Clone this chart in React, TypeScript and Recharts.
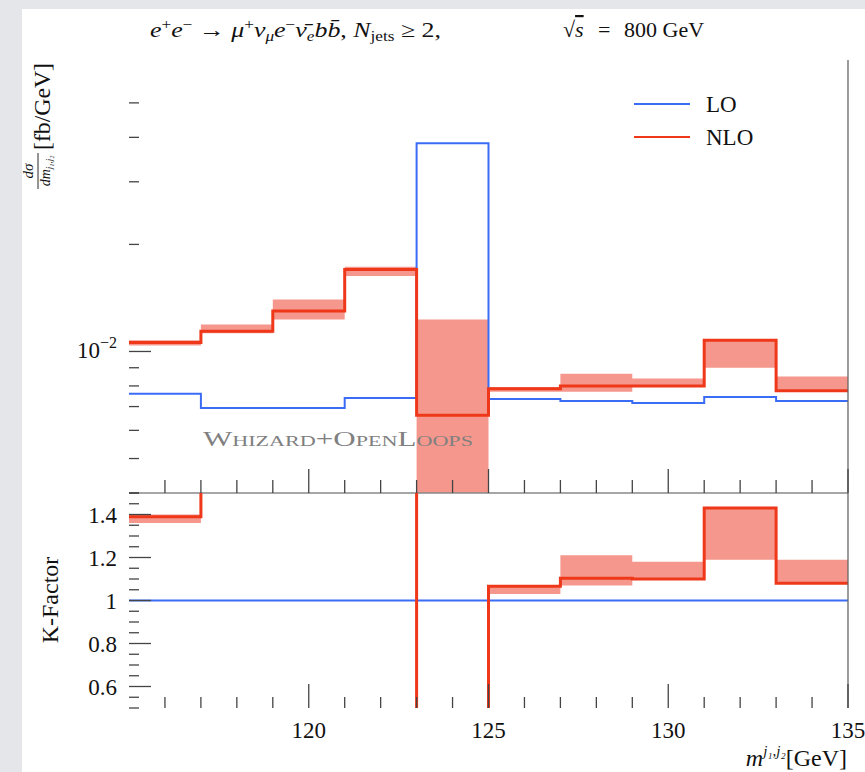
import { ComposedChart, Line, Area, XAxis, YAxis, ReferenceLine } from 'recharts'

const SERIF = '"Liberation Serif", "DejaVu Serif", serif'
const BLUE = '#3b6cf6'
const RED = '#ee3819'
const BAND = '#f5978c'
const TICK = '#444'

// m(j1,j2) histogram bins [GeV]
const binEdges = [115, 117, 119, 121, 123, 125, 127, 129, 131, 133, 135]

// dsigma/dm [fb/GeV], one value per bin
const loXsec = [7.6e-3, 6.93e-3, 6.93e-3, 7.4e-3, 3.85e-2, 7.35e-3, 7.26e-3, 7.16e-3, 7.45e-3, 7.26e-3]
const nloXsec = [1.06e-2, 1.14e-2, 1.3e-2, 1.7e-2, 6.62e-3, 7.85e-3, 8.0e-3, 8.0e-3, 1.075e-2, 7.75e-3]
const nloXsecLow = [1.04e-2, 1.125e-2, 1.23e-2, 1.63e-2, 3.0e-3, 7.7e-3, 7.7e-3, 7.95e-3, 9.0e-3, 7.75e-3]
const nloXsecHigh = [1.075e-2, 1.19e-2, 1.4e-2, 1.73e-2, 1.23e-2, 7.95e-3, 8.66e-3, 8.4e-3, 1.075e-2, 8.5e-3]

// K-factor NLO/LO
const loK = [1, 1, 1, 1, 1, 1, 1, 1, 1, 1]
const nloK = [1.39, 1.64, 1.88, 2.3, 0.17, 1.066, 1.104, 1.1, 1.43, 1.08]
const nloKLow = [1.36, 1.6, 1.8, 2.2, 0.08, 1.03, 1.07, 1.1, 1.19, 1.08]
const nloKHigh = [1.4, 1.7, 2.0, 2.4, 0.32, 1.066, 1.21, 1.18, 1.43, 1.19]

const massTicks = [116, 117, 118, 119, 120, 121, 122, 123, 124, 125, 126, 127, 128, 129, 130, 131, 132, 133, 134, 135]
const xsecTicks = [0.004, 0.005, 0.006, 0.007, 0.008, 0.009, 0.01, 0.02, 0.03, 0.04, 0.05]
const kTicks = [0.5, 0.55, 0.6, 0.65, 0.7, 0.75, 0.8, 0.85, 0.9, 0.95, 1, 1.05, 1.1, 1.15, 1.2, 1.25, 1.3, 1.35, 1.4, 1.45, 1.5]

const legendItems = [
  { name: 'LO', color: BLUE },
  { name: 'NLO', color: RED },
]

// step histogram: repeat the last bin value at the closing edge
const rows = binEdges.map((m, i) => {
  const b = Math.min(i, loXsec.length - 1)
  return {
    m,
    lo: loXsec[b],
    nlo: nloXsec[b],
    nloBand: [nloXsecLow[b], nloXsecHigh[b]],
    kLo: loK[b],
    kNlo: nloK[b],
    kBand: [nloKLow[b], nloKHigh[b]],
  }
})

function MassTick(props: any) {
  const { x, y, payload, labelled } = props
  const v = payload.value
  const major = v % 5 === 0
  const len = major ? 24 : labelled ? 11 : 13
  return (
    <g>
      <line x1={x} x2={x} y1={y} y2={y - len} stroke={TICK} strokeWidth={1.3} />
      {labelled && major && (
        <text x={x} y={y + 30} textAnchor="middle" fontSize={23} fontFamily={SERIF} fill="#111">
          {v}
        </text>
      )}
    </g>
  )
}

function XsecTick(props: any) {
  const { x, y, payload } = props
  const major = payload.value === 0.01
  return (
    <g>
      <line x1={x} x2={x + (major ? 22 : 10)} y1={y} y2={y} stroke={TICK} strokeWidth={1.3} />
      {major && (
        <text x={x - 12} y={y + 7} textAnchor="end" fontSize={23} fontFamily={SERIF} fill="#111">
          10<tspan dy={-10} fontSize={16}>−2</tspan>
        </text>
      )}
    </g>
  )
}

function KTick(props: any) {
  const { x, y, payload } = props
  const v = payload.value
  const major = Math.abs(v * 5 - Math.round(v * 5)) < 1e-6
  return (
    <g>
      <line x1={x} x2={x + (major ? 22 : 10)} y1={y} y2={y} stroke={TICK} strokeWidth={1.3} />
      {major && (
        <text x={x - 12} y={y + 8} textAnchor="end" fontSize={23} fontFamily={SERIF} fill="#111">
          {String(v)}
        </text>
      )}
    </g>
  )
}

function Overlay() {
  return (
    <svg width={865} height={772} style={{ position: 'absolute', left: 0, top: 0, pointerEvents: 'none' }}>
      <g fontFamily={SERIF} fill="#111">
        <text x={150} y={37} fontSize={21} textLength={291} lengthAdjust="spacingAndGlyphs">
          <tspan fontStyle="italic">e</tspan>
          <tspan fontSize={14} dy={-8}>+</tspan>
          <tspan fontStyle="italic" dy={8}>e</tspan>
          <tspan fontSize={14} dy={-8}>−</tspan>
          <tspan dy={8}>{' → '}</tspan>
          <tspan fontStyle="italic">μ</tspan>
          <tspan fontSize={14} dy={-8}>+</tspan>
          <tspan fontStyle="italic" dy={8}>ν</tspan>
          <tspan fontStyle="italic" fontSize={14} dy={4}>μ</tspan>
          <tspan fontStyle="italic" dy={-4}>e</tspan>
          <tspan fontSize={14} dy={-8}>−</tspan>
          <tspan fontStyle="italic" dy={8}>ν̄</tspan>
          <tspan fontStyle="italic" fontSize={14} dy={4}>e</tspan>
          <tspan fontStyle="italic" dy={-4}>bb̄</tspan>
          <tspan>{', '}</tspan>
          <tspan fontStyle="italic">N</tspan>
          <tspan fontSize={14} dy={4}>jets</tspan>
          <tspan dy={-4}>{' ≥ 2,'}</tspan>
        </text>
        <text y={37} fontSize={22}>
          <tspan x={563}>√</tspan>
          <tspan fontStyle="italic" textDecoration="overline">s</tspan>
          <tspan x={598}>=</tspan>
          <tspan x={624}>800 GeV</tspan>
        </text>

        <g transform="translate(53,190) rotate(-90)">
          <text x={19} y={-20} textAnchor="middle" fontSize={15} fontStyle="italic">
            dσ
          </text>
          <line x1={1} x2={37} y1={-15} y2={-15} stroke="#111" strokeWidth={0.9} />
          <text x={19} y={-3} textAnchor="middle" fontSize={14} fontStyle="italic">
            dm<tspan fontSize={9} dy={2}>j₁,j₂</tspan>
          </text>
          <text x={40} y={-3} fontSize={23} textLength={87} lengthAdjust="spacingAndGlyphs">
            [fb/GeV]
          </text>
        </g>
        <text x={58} y={600} transform="rotate(-90 58 600)" textAnchor="middle" fontSize={24}>
          K-Factor
        </text>
        <text x={847} y={766} textAnchor="end" fontSize={24}>
          <tspan fontStyle="italic">m</tspan>
          <tspan fontStyle="italic" fontSize={15} dy={-10}>j₁,j₂</tspan>
          <tspan dy={10}>[GeV]</tspan>
        </text>

        <text x={203} y={446} fontSize={21} fill="#808080" style={{ fontVariant: 'small-caps' }} textLength={270} lengthAdjust="spacingAndGlyphs">
          Whizard+OpenLoops
        </text>

        {legendItems.map((item, i) => (
          <g key={item.name}>
            <line x1={634} x2={690} y1={104 + i * 33} y2={104 + i * 33} stroke={item.color} strokeWidth={2} />
            <text x={706} y={112 + i * 33} fontSize={23}>
              {item.name}
            </text>
          </g>
        ))}
      </g>
    </svg>
  )
}

export default function App() {
  return (
    <div style={{ position: 'absolute', left: 0, top: 0, width: 865, height: 772, background: '#e4e6ea', overflow: 'hidden', fontFamily: SERIF }}>
      <div style={{ position: 'absolute', left: 22, top: 9, right: 0, bottom: 0, background: '#fff' }} />

      <div style={{ position: 'absolute', left: 0, top: 0 }}>
        <ComposedChart width={865} height={500} data={rows} margin={{ top: 60, right: 17, left: 69, bottom: 0 }} style={{ fontFamily: SERIF }}>
          <XAxis
            dataKey="m"
            type="number"
            domain={[115, 135]}
            ticks={massTicks}
            interval={0}
            allowDataOverflow
            height={7}
            tickSize={0}
            tickMargin={0}
            tickLine={false}
            axisLine={{ stroke: '#888', strokeWidth: 1.3 }}
            tick={<MassTick labelled={false} />}
          />
          <YAxis
            scale="log"
            domain={[0.004, 0.066]}
            ticks={xsecTicks}
            interval={0}
            allowDataOverflow
            width={60}
            tickSize={0}
            tickMargin={0}
            tickLine={false}
            axisLine={false}
            tick={<XsecTick />}
          />
          <Area dataKey="nloBand" type="stepAfter" fill={BAND} fillOpacity={1} stroke="none" isAnimationActive={false} />
          <Line dataKey="lo" type="stepAfter" stroke={BLUE} strokeWidth={2} dot={false} isAnimationActive={false} />
          <Line dataKey="nlo" type="stepAfter" stroke={RED} strokeWidth={3} dot={false} isAnimationActive={false} />
          <ReferenceLine x={135} stroke="#666" strokeWidth={1.3} />
        </ComposedChart>
      </div>

      <div style={{ position: 'absolute', left: 0, top: 486 }}>
        <ComposedChart width={865} height={267} data={rows} margin={{ top: 7, right: 17, left: 69, bottom: 0 }} style={{ fontFamily: SERIF }}>
          <XAxis
            dataKey="m"
            type="number"
            domain={[115, 135]}
            ticks={massTicks}
            interval={0}
            allowDataOverflow
            height={45}
            tickSize={0}
            tickMargin={0}
            tickLine={false}
            axisLine={false}
            tick={<MassTick labelled />}
          />
          <YAxis
            domain={[0.5, 1.5]}
            ticks={kTicks}
            interval={0}
            allowDataOverflow
            width={60}
            tickSize={0}
            tickMargin={0}
            tickLine={false}
            axisLine={false}
            tick={<KTick />}
          />
          <Area dataKey="kBand" type="stepAfter" fill={BAND} fillOpacity={1} stroke="none" isAnimationActive={false} />
          <Line dataKey="kLo" type="stepAfter" stroke={BLUE} strokeWidth={2} dot={false} isAnimationActive={false} />
          <Line dataKey="kNlo" type="stepAfter" stroke={RED} strokeWidth={3} dot={false} isAnimationActive={false} />
          <ReferenceLine x={135} stroke="#666" strokeWidth={1.3} />
        </ComposedChart>
      </div>

      <Overlay />
    </div>
  )
}
